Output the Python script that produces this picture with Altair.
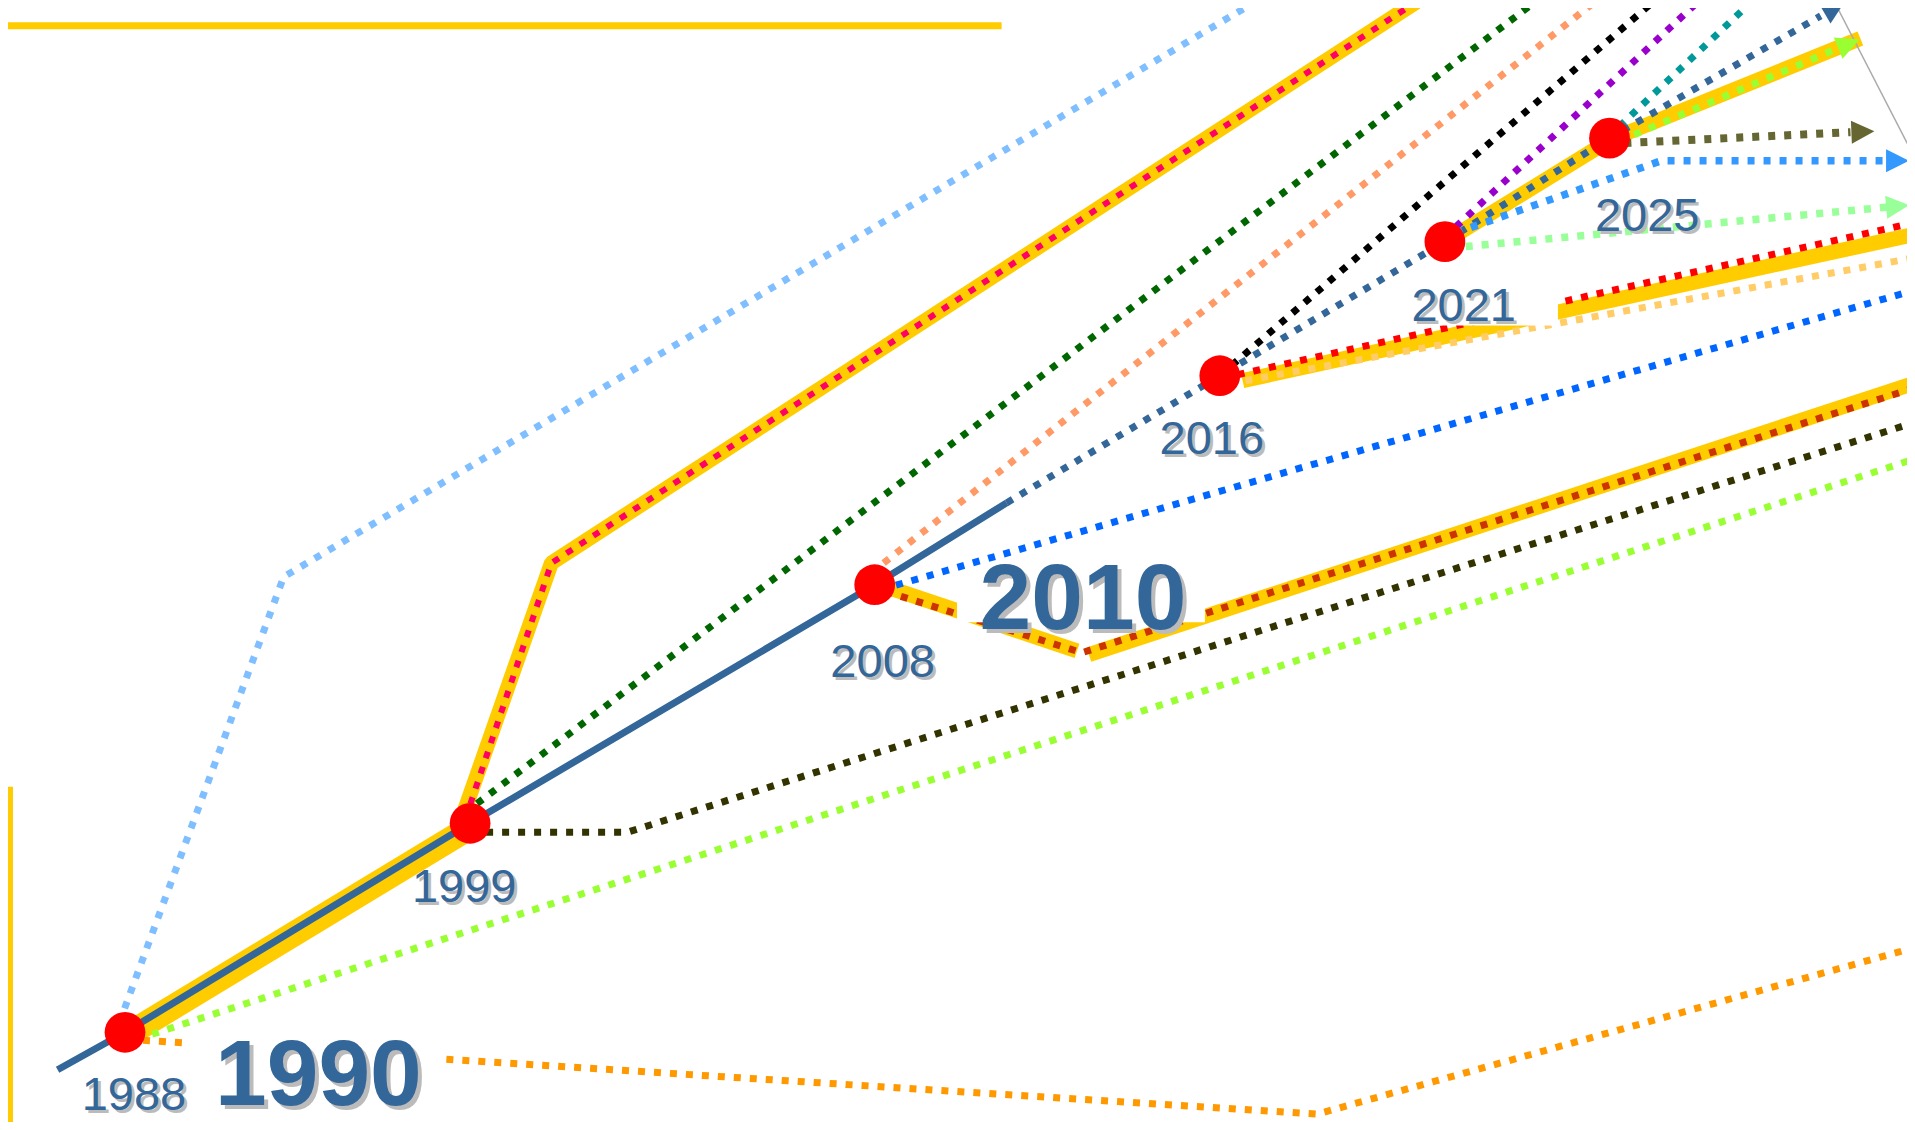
import math
import altair as alt
import pandas as pd

# ---- canvas (reference pixel coordinate system) ----
XMAX, YMAX = 1915, 1130
W, H = 1899, 1114

# ---- nodes (red dots) ----
node_years = ["1988", "1999", "2008", "2016", "2021", "2025"]
node_x = [118, 466, 874, 1222, 1449, 1615]
node_y = [1039, 827, 585, 373, 237, 132]

# ---- small year labels ----
label_text = ["1988", "1999", "2008", "2016", "2021", "2025"]
label_x = [127, 460, 882, 1214, 1468, 1653]
label_y = [1118, 907, 679, 452, 317, 226]

# ---- big year labels ----
big_text = ["1990", "2010"]
big_x = [313, 1084]
big_y = [1113, 630]

# ---- white label boxes ----
box_x1 = [182, 957, 1410]
box_x2 = [437, 1207, 1563]
box_y1 = [1040, 576, 276]
box_y2 = [1116, 623, 322]

# ---- solid trunk ----
trunk_x = [50, 118, 466, 874, 1007]
trunk_y = [1077, 1039, 827, 585, 502]

# ---- yellow bands ----
band1_x = [118, 458]
band1_y = [1043, 836]
band2_x = [452, 548, 1420]
band2_y = [838, 563, -6]
band3a_x = [876, 1078]
band3a_y = [584, 652]
band3b_x = [1090, 1930]
band3b_y = [656, 378]
band4_x = [1245, 1930]
band4_y = [378, 228]
band5_x = [1449, 1617, 1868]
band5_y = [237, 133, 31]
top_bar_x = [0, 1002]
top_bar_y = [18, 18]
left_bar_x = [2.5, 2.5]
left_bar_y = [790, 1135]

# ---- dotted branches ----
steel_x = [1007, 1222, 1449, 1615, 1828]
steel_y = [502, 373, 237, 132, 8]
lightblue_x = [112, 278, 1264]
lightblue_y = [1030, 577, -10]
pink_x = [456, 548, 1420]
pink_y = [838, 563, -6]
green_x = [473, 1545]
green_y = [807, -10]
salmon_x = [883, 1605]
salmon_y = [563, -10]
blue_x = [880, 1930]
blue_y = [590, 284]
darkorange_x = [885, 1083, 1930]
darkorange_y = [592, 654, 383]
darkolive_x = [466, 625, 1930]
darkolive_y = [836, 836, 418]
chartreuse_x = [130, 1930]
chartreuse_y = [1046, 455]
orange_x = [120, 1320, 1930]
orange_y = [1046, 1122, 951]
black_x = [1222, 1661]
black_y = [373, -8]
red_x = [1240, 1930]
red_y = [372, 216]
lightorange_x = [1232, 1930]
lightorange_y = [381, 252]
purple_x = [1460, 1706]
purple_y = [222, -8]
teal_x = [1625, 1760]
teal_y = [120, -8]
chartreuse2_x = [1625, 1845]
chartreuse2_y = [135, 41]
olive_x = [1630, 1858]
olive_y = [137, 126]
dodger_x = [1460, 1667, 1895]
dodger_y = [228, 155, 155]
lightgreen_x = [1470, 1895]
lightgreen_y = [242, 202]
gray_x = [1845, 1930]
gray_y = [0, 166]

# ---- arrow heads ----
arrow_color = ["#336699", "#99FF33", "#666633", "#3399FF", "#99FF99"]
arrow_base_x = [1828, 1845, 1858, 1895, 1895]
arrow_base_y = [8, 41, 126, 155, 202]
arrow_tip_x = [1852, 1867, 1882, 1917, 1917]
arrow_tip_y = [-6, 32, 125, 155, 200]


def path_rows(name, xs, ys, color, width):
    return [dict(id=name, i=k, x=a, y=b, color=color, w=width)
            for k, (a, b) in enumerate(zip(xs, ys))]


bands = []
for nm, xs, ys, w in [
    ("band1", band1_x, band1_y, 25),
    ("band2", band2_x, band2_y, 15),
    ("band3a", band3a_x, band3a_y, 15),
    ("band3b", band3b_x, band3b_y, 15),
    ("band4", band4_x, band4_y, 15),
    ("band5", band5_x, band5_y, 15),
    ("top", top_bar_x, top_bar_y, 7),
    ("left", left_bar_x, left_bar_y, 5),
]:
    bands += path_rows(nm, xs, ys, "#FFCC00", w)
bands_df = pd.DataFrame(bands)

dotted = []
for nm, xs, ys, c, w in [
    ("lightblue", lightblue_x, lightblue_y, "#80BFFF", 7),
    ("green", green_x, green_y, "#006600", 7),
    ("salmon", salmon_x, salmon_y, "#FF9966", 7),
    ("blue", blue_x, blue_y, "#0066FF", 7),
    ("darkolive", darkolive_x, darkolive_y, "#333300", 7),
    ("chartreuse", chartreuse_x, chartreuse_y, "#99FF33", 7),
    ("orange", orange_x, orange_y, "#FF9900", 7),
    ("black", black_x, black_y, "#000000", 7),
    ("purple", purple_x, purple_y, "#9900CC", 7),
    ("teal", teal_x, teal_y, "#009999", 7),
    ("lightorange", lightorange_x, lightorange_y, "#FFCC66", 7),
    ("red", red_x, red_y, "#FF0000", 7),
    ("darkorange", darkorange_x, darkorange_y, "#CC3300", 7),
    ("pink", pink_x, pink_y, "#FF0066", 6),
    ("steel", steel_x, steel_y, "#336699", 7),
    ("chartreuse2", chartreuse2_x, chartreuse2_y, "#99FF33", 7),
    ("olive", olive_x, olive_y, "#666633", 8),
    ("dodger", dodger_x, dodger_y, "#3399FF", 7.5),
    ("lightgreen", lightgreen_x, lightgreen_y, "#99FF99", 7.5),
]:
    dotted += path_rows(nm, xs, ys, c, w)
dotted_df = pd.DataFrame(dotted)

trunk_df = pd.DataFrame(path_rows("trunk", trunk_x, trunk_y, "#336699", 7))
gray_df = pd.DataFrame(path_rows("gray", gray_x, gray_y, "#AAAAAA", 1.5))

ARROW_LEN = 23
arrows = []
for c, bx, by, tx, ty in zip(arrow_color, arrow_base_x, arrow_base_y, arrow_tip_x, arrow_tip_y):
    dx, dy = tx - bx, ty - by
    n = math.hypot(dx, dy)
    ux, uy = dx / n, dy / n
    ang = math.degrees(math.atan2(dy, dx)) % 360
    arrows.append(dict(x=tx - ux * ARROW_LEN / 2, y=ty - uy * ARROW_LEN / 2, ang=ang, color=c))
arrows_df = pd.DataFrame(arrows)

nodes_df = pd.DataFrame(dict(year=node_years, x=node_x, y=node_y))
labels_df = pd.DataFrame(dict(t=label_text, x=label_x, y=label_y))
big_df = pd.DataFrame(dict(t=big_text, x=big_x, y=big_y))
boxes_df = pd.DataFrame(dict(x=box_x1, x2=box_x2, y=box_y1, y2=box_y2))

xs = alt.Scale(domain=[0, XMAX], nice=False, zero=False)
ys = alt.Scale(domain=[0, YMAX], nice=False, zero=False, reverse=True)
X = alt.X("x:Q", scale=xs, axis=None)
Y = alt.Y("y:Q", scale=ys, axis=None)

band_layer = alt.Chart(bands_df).mark_line(clip=True, strokeCap="butt", strokeJoin="bevel").encode(
    x=X, y=Y, detail="id:N", order="i:Q",
    color=alt.Color("color:N", scale=None),
    strokeWidth=alt.StrokeWidth("w:Q", scale=None),
)

trunk_layer = alt.Chart(trunk_df).mark_line(clip=True, strokeCap="butt", strokeJoin="round").encode(
    x=X, y=Y, detail="id:N", order="i:Q",
    color=alt.Color("color:N", scale=None),
    strokeWidth=alt.StrokeWidth("w:Q", scale=None),
)

dotted_layer = alt.Chart(dotted_df).mark_line(
    clip=True, strokeCap="butt", strokeJoin="round", strokeDash=[7, 9]
).encode(
    x=X, y=Y, detail="id:N", order="i:Q",
    color=alt.Color("color:N", scale=None),
    strokeWidth=alt.StrokeWidth("w:Q", scale=None),
)

gray_layer = alt.Chart(gray_df).mark_line(clip=True).encode(
    x=X, y=Y, order="i:Q",
    color=alt.Color("color:N", scale=None),
    strokeWidth=alt.StrokeWidth("w:Q", scale=None),
)

arrow_layer = alt.Chart(arrows_df).mark_point(
    shape="M-1,-1L1,0L-1,1Z", filled=True, size=ARROW_LEN ** 2, opacity=1, clip=True
).encode(
    x=X, y=Y,
    angle=alt.Angle("ang:Q", scale=None),
    color=alt.Color("color:N", scale=None),
)

box_layer = alt.Chart(boxes_df).mark_rect(color="white").encode(
    x=X, x2="x2:Q", y=Y, y2="y2:Q"
)

FONT = "Liberation Sans, Arial, sans-serif"
small_shadow = alt.Chart(labels_df).mark_text(
    font=FONT, fontSize=47, color="#BBBBBB", align="center", baseline="alphabetic", dx=3, dy=3
).encode(x=X, y=Y, text="t:N")
small_text = alt.Chart(labels_df).mark_text(
    font=FONT, fontSize=47, color="#336699", align="center", baseline="alphabetic"
).encode(x=X, y=Y, text="t:N")
big_shadow = alt.Chart(big_df).mark_text(
    font=FONT, fontSize=93, fontWeight="bold", color="#BBBBBB", align="center",
    baseline="alphabetic", dx=4, dy=4
).encode(x=X, y=Y, text="t:N")
big_textl = alt.Chart(big_df).mark_text(
    font=FONT, fontSize=93, fontWeight="bold", color="#336699", align="center",
    baseline="alphabetic"
).encode(x=X, y=Y, text="t:N")

dot_layer = alt.Chart(nodes_df).mark_circle(size=1660, color="#FF0000", opacity=1).encode(
    x=X, y=Y, tooltip="year:N"
)

chart = alt.layer(
    band_layer, trunk_layer, dotted_layer, gray_layer, arrow_layer,
    box_layer, small_shadow, small_text, big_shadow, big_textl, dot_layer
).properties(
    width=W, height=H, padding=0,
    autosize=alt.AutoSizeParams(type="none"),
).configure_view(strokeWidth=0)

chart.save("out.html", embed_options={"renderer": "svg", "actions": False})
